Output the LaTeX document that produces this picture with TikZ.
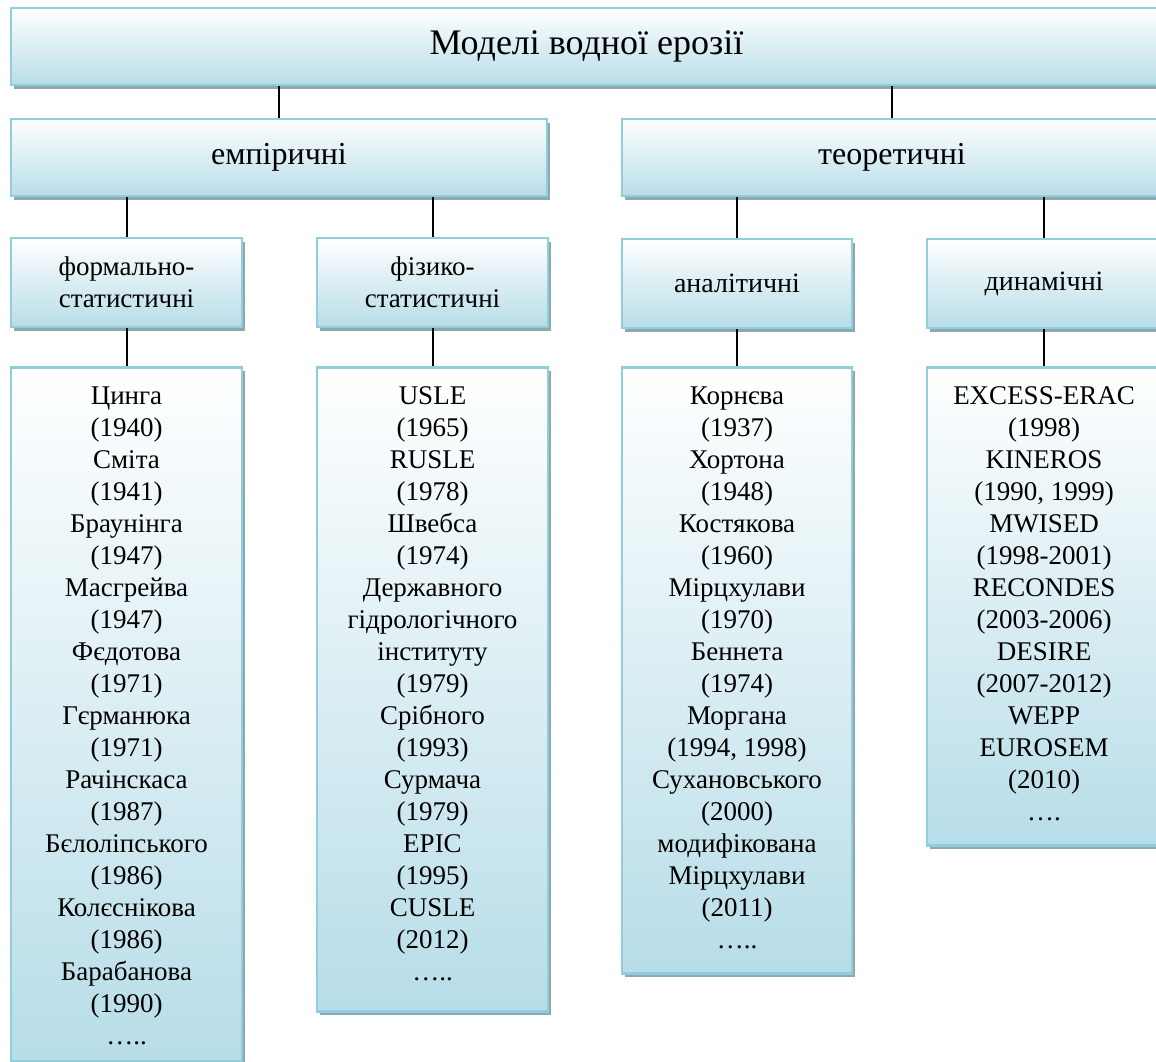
\documentclass[tikz,border=0pt]{standalone}
\usepackage{fontspec}
\setmainfont{Liberation Serif}
\usetikzlibrary{shadows}
\definecolor{bord}{HTML}{92CDDC}
\definecolor{fillb}{HTML}{B7DDE8}
\definecolor{shad}{HTML}{8EA8B0}
\newcommand\lbox[3]{\parbox[c][#2][t]{#1}{\centering\fontsize{27}{32}\selectfont\vspace*{15pt}\strut#3\strut\par}}
\tikzset{
  box/.style={draw=bord, line width=2.5pt, top color=white, bottom color=fillb,
    drop shadow={shadow xshift=3pt, shadow yshift=-4pt, fill=shad, opacity=1},
    inner sep=0pt, align=center, text=black},
  lvltwo/.style={box, minimum height=77pt, font=\fontsize{32}{36}\selectfont},
  lvlthree/.style={box, minimum height=89pt, font=\fontsize{27}{32}\selectfont},
  listbox/.style={box, anchor=north},
  conn/.style={draw=black, line width=2pt}
}
\begin{document}
\begin{tikzpicture}[x=1pt,y=-1pt]
\useasboundingbox (0,0) rectangle (1156,1062);
\clip (0,0) rectangle (1156,1062);

\node[box, minimum width=1151pt, minimum height=77pt, font=\fontsize{36}{40}\selectfont] (root) at (586.5,46.5) {Моделі водної ерозії};

\node[lvltwo, minimum width=536pt] (emp) at (279,157.5) {емпіричні};
\node[lvltwo, minimum width=540pt] (theo) at (892,157.5) {теоретичні};

\node[lvlthree, minimum width=231pt] (form) at (126.5,282.5) {формально-\\статистичні};
\node[lvlthree, minimum width=231pt] (phys) at (432.5,282.5) {фізико-\\статистичні};
\node[lvlthree, minimum width=230pt, font=\fontsize{28}{32}\selectfont] (anal) at (737,283.5) {аналітичні};
\node[lvlthree, minimum width=234pt, font=\fontsize{28}{32}\selectfont] (dyn) at (1044,283.5) {динамічні};

\node[listbox] (formL) at (126.5,366) {\lbox{231pt}{694pt}{Цинга\\(1940)\\Сміта\\(1941)\\Браунінга\\(1947)\\Масгрейва\\(1947)\\Фєдотова\\(1971)\\Гєрманюка\\(1971)\\Рачінскаса\\(1987)\\Бєлолiпського\\(1986)\\Колєснікова\\(1986)\\Барабанова\\(1990)\\…..}};
\node[listbox] (physL) at (432.5,366) {\lbox{231pt}{644pt}{USLE\\(1965)\\RUSLE\\(1978)\\Швебса\\(1974)\\Державного\\гідрологічного\\інституту\\(1979)\\Срібного\\(1993)\\Сурмача\\(1979)\\EPIC\\(1995)\\CUSLE\\(2012)\\…..}};
\node[listbox] (analL) at (737,366) {\lbox{230pt}{606pt}{Корнєва\\(1937)\\Хортона\\(1948)\\Костякова\\(1960)\\Мірцхулави\\(1970)\\Беннета\\(1974)\\Моргана\\(1994, 1998)\\Сухановського\\(2000)\\модифікована\\Мірцхулави\\(2011)\\…..}};
\node[listbox] (dynL) at (1044,366) {\lbox{234pt}{478pt}{EXCESS-ERAC\\(1998)\\KINEROS\\(1990, 1999)\\MWISED\\(1998-2001)\\RECONDES\\(2003-2006)\\DESIRE\\(2007-2012)\\WEPP\\EUROSEM\\(2010)\\….}};

\draw[conn] (root.south -| emp.north) -- (emp.north);
\draw[conn] (root.south -| theo.north) -- (theo.north);
\draw[conn] (emp.south -| form.north) -- (form.north);
\draw[conn] (emp.south -| phys.north) -- (phys.north);
\draw[conn] (theo.south -| anal.north) -- (anal.north);
\draw[conn] (theo.south -| dyn.north) -- (dyn.north);
\draw[conn] (form.south) -- (formL.north);
\draw[conn] (phys.south) -- (physL.north);
\draw[conn] (anal.south) -- (analL.north);
\draw[conn] (dyn.south) -- (dynL.north);
\end{tikzpicture}
\end{document}
